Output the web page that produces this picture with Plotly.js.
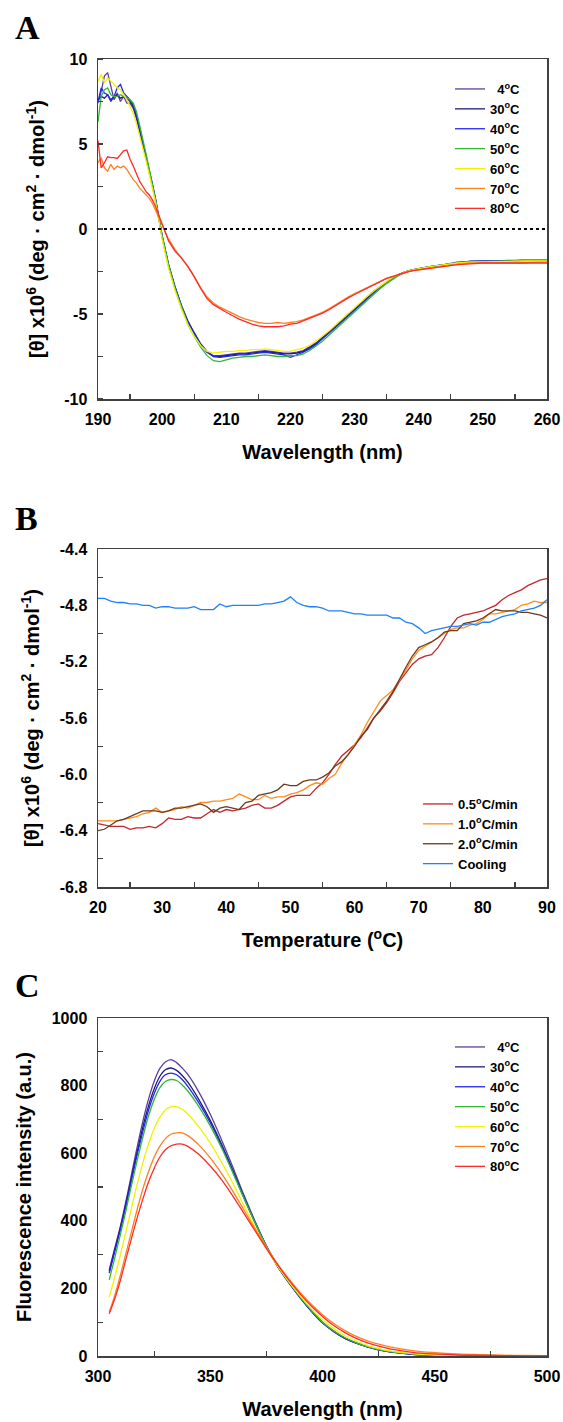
<!DOCTYPE html>
<html>
<head>
<meta charset="utf-8">
<script src="https://cdn.plot.ly/plotly-3.0.1.min.js"></script>
<style>html,body{margin:0;padding:0;background:#fff;}#chart{width:563px;height:1422px;}</style>
</head>
<body>
<div id="chart"></div>
<script>
// ---------------- Panel A: CD spectra ----------------
const wlA = [190,190.5,191,191.5,192,192.5,193,193.5,194,194.5,195,195.5,196,196.5,197,197.5,198,198.5,199,199.5,200,
  201,202,203,204,205,206,207,208,209,210,211,212,213,214,215,216,217,218,219,220,
  221,222,223,224,225,226,227,228,229,230,231,232,233,234,235,236,237,238,239,240,
  242,244,246,248,250,252,254,256,258,260];
const cd4 = [7.4,8.1,9.0,9.2,8.4,7.6,8.0,7.5,7.8,7.4,7.4,7.1,6.5,5.8,5.0,4.2,3.4,2.5,1.6,0.6,-0.5,
  -2.2,-3.5,-4.6,-5.5,-6.2,-6.8,-7.25,-7.45,-7.45,-7.4,-7.35,-7.3,-7.3,-7.25,-7.2,-7.15,-7.2,-7.25,-7.3,-7.3,
  -7.25,-7.15,-6.95,-6.7,-6.4,-6.05,-5.7,-5.35,-5.0,-4.65,-4.3,-3.95,-3.65,-3.38,-3.1,-2.85,-2.65,-2.5,-2.4,-2.33,
  -2.2,-2.1,-1.95,-1.9,-1.9,-1.88,-1.85,-1.85,-1.83,-1.85];
const cd30 = [7.6,7.8,7.7,7.9,7.6,7.8,7.9,7.7,7.8,7.7,7.5,7.2,6.6,5.8,5.1,4.3,3.4,2.6,1.7,0.7,-0.4,
  -2.1,-3.4,-4.5,-5.4,-6.1,-6.75,-7.2,-7.5,-7.5,-7.45,-7.4,-7.35,-7.35,-7.3,-7.25,-7.2,-7.25,-7.3,-7.35,-7.35,
  -7.3,-7.2,-7.0,-6.75,-6.4,-6.1,-5.75,-5.4,-5.05,-4.7,-4.35,-4.0,-3.7,-3.4,-3.12,-2.87,-2.67,-2.5,-2.4,-2.33,
  -2.2,-2.1,-2.0,-1.9,-1.9,-1.9,-1.88,-1.85,-1.85,-1.85];
const cd40 = [7.5,8.3,8.0,7.9,7.5,7.8,8.3,8.5,8.0,7.8,7.6,7.3,6.7,5.9,5.1,4.3,3.4,2.6,1.7,0.7,-0.4,
  -2.1,-3.4,-4.5,-5.45,-6.15,-6.8,-7.25,-7.5,-7.55,-7.5,-7.45,-7.4,-7.4,-7.35,-7.3,-7.25,-7.3,-7.35,-7.4,-7.55,
  -7.4,-7.25,-7.05,-6.8,-6.45,-6.15,-5.8,-5.45,-5.1,-4.75,-4.4,-4.05,-3.75,-3.45,-3.15,-2.9,-2.68,-2.52,-2.42,-2.33,
  -2.2,-2.1,-2.0,-1.9,-1.88,-1.9,-1.88,-1.85,-1.85,-1.85];
const cd50 = [6.3,7.8,8.2,8.3,7.9,7.8,7.8,7.9,7.8,7.7,7.6,7.4,6.9,6.1,5.3,4.4,3.5,2.6,1.7,0.7,-0.4,
  -2.1,-3.5,-4.6,-5.6,-6.3,-6.95,-7.45,-7.75,-7.8,-7.7,-7.6,-7.55,-7.5,-7.5,-7.45,-7.4,-7.45,-7.5,-7.5,-7.45,
  -7.45,-7.35,-7.15,-6.9,-6.6,-6.25,-5.9,-5.55,-5.2,-4.85,-4.5,-4.15,-3.8,-3.5,-3.2,-2.93,-2.7,-2.53,-2.42,-2.35,
  -2.2,-2.1,-2.0,-1.9,-1.9,-1.9,-1.88,-1.87,-1.85,-1.85];
const cd60 = [8.7,9.1,8.6,8.9,8.7,8.5,8.3,8.2,7.9,7.6,7.2,6.8,6.2,5.5,4.8,4.0,3.2,2.4,1.5,0.5,-0.6,
  -2.3,-3.6,-4.7,-5.6,-6.3,-6.85,-7.2,-7.3,-7.25,-7.2,-7.2,-7.15,-7.15,-7.1,-7.1,-7.05,-7.1,-7.15,-7.2,-7.2,
  -7.1,-7.0,-6.85,-6.6,-6.3,-6.0,-5.65,-5.3,-4.95,-4.6,-4.28,-3.95,-3.65,-3.35,-3.08,-2.84,-2.65,-2.5,-2.4,-2.32,
  -2.2,-2.1,-2.0,-1.95,-1.92,-1.9,-1.9,-1.88,-1.88,-1.88];
const cd70 = [3.9,4.2,3.6,3.4,3.8,3.5,3.7,3.6,3.7,3.5,3.2,2.9,2.7,2.4,2.2,2.0,1.8,1.5,1.1,0.6,0.2,
  -0.6,-1.2,-1.7,-2.2,-2.8,-3.45,-4.0,-4.35,-4.6,-4.8,-5.0,-5.15,-5.3,-5.4,-5.5,-5.55,-5.55,-5.5,-5.55,-5.5,
  -5.45,-5.35,-5.2,-5.05,-4.9,-4.7,-4.45,-4.2,-4.0,-3.8,-3.62,-3.42,-3.22,-3.05,-2.9,-2.78,-2.65,-2.55,-2.46,-2.4,
  -2.3,-2.2,-2.1,-2.0,-2.0,-2.0,-2.0,-2.0,-1.95,-1.95];
const cd80 = [5.2,3.6,3.9,4.25,4.2,4.2,4.15,4.4,4.6,4.65,4.1,3.7,3.2,2.8,2.5,2.2,2.0,1.7,1.3,0.8,0.3,
  -0.7,-1.3,-1.7,-2.2,-2.8,-3.5,-4.1,-4.45,-4.7,-4.9,-5.1,-5.3,-5.45,-5.6,-5.7,-5.75,-5.75,-5.75,-5.7,-5.6,
  -5.55,-5.4,-5.25,-5.1,-4.95,-4.75,-4.5,-4.25,-4.05,-3.85,-3.65,-3.45,-3.25,-3.05,-2.9,-2.78,-2.65,-2.55,-2.45,-2.4,
  -2.3,-2.2,-2.1,-2.05,-2.0,-2.0,-2.0,-2.0,-2.0,-2.0];
const tempNames = ['\u00a0\u00a04<sup>o</sup>C','30<sup>o</sup>C','40<sup>o</sup>C','50<sup>o</sup>C','60<sup>o</sup>C','70<sup>o</sup>C','80<sup>o</sup>C'];
const tempColors = ['#5b3f9f','#1c1c7c','#2424ee','#33b833','#f2f200','#ff7f1f','#ff2a2a'];

// ---------------- Panel B: thermal melts ----------------
const tempB = [20,21,22,23,24,25,26,27,28,29,30,31,32,33,34,35,36,37,38,39,40,41,42,43,44,45,46,47,48,49,50,
  51,52,53,54,55,56,57,58,59,60,61,62,63,64,65,66,67,68,69,70,71,72,73,74,75,76,77,78,79,80,
  81,82,83,84,85,86,87,88,89,90];
const r05 = [-6.35,-6.36,-6.37,-6.37,-6.37,-6.39,-6.38,-6.38,-6.37,-6.38,-6.35,-6.31,-6.32,-6.32,-6.3,-6.31,-6.31,-6.28,-6.25,-6.27,-6.25,
  -6.26,-6.25,-6.24,-6.22,-6.21,-6.24,-6.24,-6.22,-6.19,-6.16,-6.15,-6.15,-6.15,-6.1,-6.06,-6.0,-5.93,-5.87,-5.83,-5.79,
  -5.74,-5.67,-5.6,-5.55,-5.49,-5.42,-5.34,-5.28,-5.22,-5.18,-5.16,-5.15,-5.1,-5.03,-4.95,-4.89,-4.87,-4.86,-4.85,-4.84,
  -4.82,-4.8,-4.76,-4.73,-4.71,-4.69,-4.66,-4.64,-4.62,-4.61];
const r10 = [-6.33,-6.33,-6.33,-6.33,-6.32,-6.31,-6.3,-6.28,-6.27,-6.24,-6.27,-6.26,-6.25,-6.23,-6.24,-6.22,-6.2,-6.2,-6.19,-6.19,-6.18,
  -6.17,-6.14,-6.16,-6.18,-6.18,-6.15,-6.17,-6.16,-6.16,-6.14,-6.13,-6.11,-6.08,-6.06,-6.07,-6.03,-6.0,-5.92,-5.86,-5.79,
  -5.72,-5.63,-5.55,-5.48,-5.44,-5.4,-5.33,-5.26,-5.18,-5.12,-5.09,-5.06,-5.03,-5.0,-4.97,-4.96,-4.96,-4.94,-4.93,-4.9,
  -4.86,-4.86,-4.85,-4.84,-4.83,-4.8,-4.79,-4.77,-4.78,-4.78];
const r20 = [-6.4,-6.39,-6.36,-6.33,-6.32,-6.3,-6.28,-6.26,-6.26,-6.26,-6.27,-6.26,-6.24,-6.24,-6.23,-6.22,-6.21,-6.23,-6.27,-6.24,-6.23,
  -6.24,-6.25,-6.2,-6.19,-6.15,-6.14,-6.13,-6.11,-6.07,-6.08,-6.08,-6.05,-6.04,-6.04,-6.02,-5.99,-5.94,-5.91,-5.86,-5.8,
  -5.73,-5.68,-5.6,-5.54,-5.48,-5.41,-5.32,-5.24,-5.16,-5.1,-5.08,-5.06,-5.03,-4.99,-4.98,-4.98,-4.93,-4.92,-4.91,-4.89,
  -4.86,-4.83,-4.84,-4.84,-4.84,-4.85,-4.85,-4.86,-4.87,-4.89];
const cool = [-4.75,-4.75,-4.77,-4.78,-4.78,-4.79,-4.79,-4.8,-4.8,-4.82,-4.81,-4.81,-4.82,-4.82,-4.82,-4.81,-4.83,-4.83,-4.83,-4.79,-4.81,
  -4.8,-4.8,-4.8,-4.8,-4.8,-4.79,-4.79,-4.78,-4.77,-4.74,-4.78,-4.8,-4.81,-4.81,-4.82,-4.84,-4.84,-4.84,-4.85,-4.86,
  -4.86,-4.87,-4.87,-4.87,-4.87,-4.89,-4.89,-4.92,-4.93,-4.96,-5.0,-4.98,-4.97,-4.96,-4.95,-4.95,-4.94,-4.93,-4.94,-4.92,
  -4.92,-4.9,-4.88,-4.87,-4.86,-4.84,-4.83,-4.82,-4.8,-4.76];
const rateNames = ['0.5<sup>o</sup>C/min','1.0<sup>o</sup>C/min','2.0<sup>o</sup>C/min','Cooling'];
const rateColors = ['#c1272d','#ff8c1a','#6b3a1e','#1e7fff'];

// ---------------- Panel C: fluorescence ----------------
const wlC = [305,307.5,310,312.5,315,317.5,320,322.5,325,327.5,330,332.5,335,337.5,340,345,350,355,360,365,370,375,380,385,390,395,400,405,410,415,420,425,430,440,450,460,470,480,490,500];
const fl4 = [255,320,385,460,540,620,695,760,812,850,870,877,868,852,833,780,715,640,560,476,398,326,265,220,175,135,100,74,53,39,28,19,13,6,3,1.5,1,0.5,0.3,0];
const fl30 = [250,315,380,452,530,605,678,740,790,827,847,852,845,830,810,758,697,627,550,470,395,325,265,217,173,133,98,72,52,38,27,18,12,5,2.5,1.2,0.7,0.4,0.2,0];
const fl40 = [245,310,375,445,522,597,665,727,776,812,832,837,832,818,798,748,690,622,546,468,394,325,266,217,173,133,98,73,52,38,27,18,12,5,2.5,1.2,0.7,0.4,0.2,0];
const fl50 = [225,292,360,432,508,580,648,710,758,793,812,818,815,802,784,737,681,616,543,467,394,326,268,219,175,135,100,74,54,39,28,19,13,6,2.5,1.2,0.7,0.4,0.2,0];
const fl60 = [175,235,300,370,440,510,572,627,672,706,728,738,738,730,716,677,630,574,512,445,381,320,266,220,178,140,107,81,60,44,31,22,15,7,3,1.5,0.8,0.4,0.2,0];
const fl70 = [130,180,240,305,370,435,495,545,588,620,643,656,660,660,652,624,586,540,488,432,376,322,272,228,188,153,122,96,75,58,45,35,27,16,10,6,4,2.5,1.5,1];
const fl80 = [125,170,225,288,350,410,465,515,555,588,610,622,627,627,620,596,562,522,474,422,370,318,270,225,184,148,117,90,69,52,39,29,21,11,6,3,2,1,0.5,0];

// ---------------- tick labels ----------------
const tickA_x = [190,200,210,220,230,240,250,260];
const tickA_y = [-10,-5,0,5,10];
const tickA_yText = ['-10','-5','0','5','10'];
const tickB_x = [20,30,40,50,60,70,80,90];
const tickB_y = [-6.8,-6.4,-6.0,-5.6,-5.2,-4.8,-4.4];
const tickB_yText = ['-6.8','-6.4','-6.0','-5.6','-5.2','-4.8','-4.4'];
const tickC_x = [300,350,400,450,500];
const tickC_y = [0,200,400,600,800,1000];

const FONT = 'Liberation Sans, Arial, sans-serif';
const LINEC = '#404040';
const tickFont = {family: FONT, size: 16, color: '#000', weight: 'bold'};
const titleFont = {family: FONT, size: 20, color: '#000', weight: 'bold'};

function axis(extra) {
  return Object.assign({
    showline: true, linecolor: LINEC, linewidth: 1.5, mirror: true,
    showgrid: false, zeroline: false, ticks: '', tickfont: tickFont,
    tickmode: 'array'
  }, extra);
}
function minor(t0, dt) {
  return {tickmode: 'linear', tick0: t0, dtick: dt, ticks: 'inside', ticklen: 5, tickwidth: 1.2, tickcolor: LINEC, showgrid: false};
}

const traces = [];
const cdSeries = [cd4, cd30, cd40, cd50, cd60, cd70, cd80];
cdSeries.forEach((ys, i) => traces.push({
  type: 'scatter', mode: 'lines', x: wlA, y: ys, name: tempNames[i], legend: 'legend',
  line: {color: tempColors[i], width: 1.3}, xaxis: 'x', yaxis: 'y'
}));
traces.push({
  type: 'scatter', mode: 'lines', x: [wlA[0], wlA[wlA.length - 1]], y: [0, 0], showlegend: false,
  line: {color: '#000', width: 2, dash: 'dot'}, xaxis: 'x', yaxis: 'y', hoverinfo: 'skip'
});
[r05, r10, r20, cool].forEach((ys, i) => traces.push({
  type: 'scatter', mode: 'lines', x: tempB, y: ys, name: rateNames[i], legend: 'legend2',
  line: {color: rateColors[i], width: 1.3}, xaxis: 'x2', yaxis: 'y2'
}));
[fl4, fl30, fl40, fl50, fl60, fl70, fl80].forEach((ys, i) => traces.push({
  type: 'scatter', mode: 'lines', x: wlC, y: ys, name: tempNames[i], legend: 'legend3',
  line: {color: tempColors[i], width: 1.3, shape: 'spline'}, xaxis: 'x3', yaxis: 'y3'
}));

const H = 1297, B0 = 1356;
function py(px) { return (B0 - px) / H; }
function pxX(px) { return (px - 98) / 449; }

const legendFont = {family: FONT, size: 13, color: '#000', weight: 'bold'};
const yTitleA = '[\u03b8] x10<sup>6</sup> (deg \u00b7 cm<sup>2</sup> \u00b7 dmol<sup>-1</sup>)';

const layout = {
  width: 563, height: 1422,
  margin: {l: 98, r: 16, t: 59, b: 66},
  paper_bgcolor: '#fff', plot_bgcolor: '#fff',
  font: {family: FONT, color: '#000'},
  showlegend: true,
  xaxis: axis({anchor: 'y', domain: [0, 1], range: [190, 260], tickvals: tickA_x, minor: minor(195, 10), ticklabelstandoff: 5,
    title: {text: 'Wavelength (nm)', font: titleFont, standoff: 18}}),
  yaxis: axis({anchor: 'x', domain: [py(399), 1], range: [-10, 10], tickvals: tickA_y, ticktext: tickA_yText,
    minor: minor(-10, 2.5), ticklabelstandoff: 6,
    title: {text: yTitleA, font: titleFont, standoff: 14}}),
  xaxis2: axis({anchor: 'y2', domain: [0, 1], range: [20, 90], tickvals: tickB_x, minor: minor(25, 10), ticklabelstandoff: 5,
    title: {text: 'Temperature (<sup>o</sup>C)', font: titleFont, standoff: 18}}),
  yaxis2: axis({anchor: 'x2', domain: [py(887), py(549)], range: [-6.8, -4.4], tickvals: tickB_y, ticktext: tickB_yText,
    minor: minor(-6.6, 0.4), ticklabelstandoff: 6,
    title: {text: yTitleA, font: titleFont, standoff: 14}}),
  xaxis3: axis({anchor: 'y3', domain: [0, 1], range: [300, 500], tickvals: tickC_x, minor: minor(325, 50), ticklabelstandoff: 5,
    title: {text: 'Wavelength (nm)', font: titleFont, standoff: 18}}),
  yaxis3: axis({anchor: 'x3', domain: [0, py(1018)], range: [0, 1000], tickvals: tickC_y,
    minor: minor(100, 200), ticklabelstandoff: 6,
    title: {text: 'Fluorescence intensity (a.u.)', font: titleFont, standoff: 14}}),
  legend: {x: pxX(450), xanchor: 'left', y: py(74), yanchor: 'top', bgcolor: 'rgba(0,0,0,0)', font: legendFont, tracegroupgap: 0},
  legend2: {x: pxX(418), xanchor: 'left', y: py(789), yanchor: 'top', bgcolor: 'rgba(0,0,0,0)', font: legendFont, tracegroupgap: 0},
  legend3: {x: pxX(450), xanchor: 'left', y: py(1032), yanchor: 'top', bgcolor: 'rgba(0,0,0,0)', font: legendFont, tracegroupgap: 0},
  annotations: [
    {text: 'A', xref: 'paper', yref: 'paper', x: pxX(13), y: py(27), xanchor: 'left', yanchor: 'middle', showarrow: false,
     font: {family: 'Liberation Serif, Times New Roman, serif', size: 34, weight: 'bold', color: '#000'}},
    {text: 'B', xref: 'paper', yref: 'paper', x: pxX(13), y: py(518), xanchor: 'left', yanchor: 'middle', showarrow: false,
     font: {family: 'Liberation Serif, Times New Roman, serif', size: 34, weight: 'bold', color: '#000'}},
    {text: 'C', xref: 'paper', yref: 'paper', x: pxX(13), y: py(985), xanchor: 'left', yanchor: 'middle', showarrow: false,
     font: {family: 'Liberation Serif, Times New Roman, serif', size: 34, weight: 'bold', color: '#000'}}
  ]
};

Plotly.newPlot('chart', traces, layout, {displayModeBar: false, staticPlot: true});
</script>
</body>
</html>
